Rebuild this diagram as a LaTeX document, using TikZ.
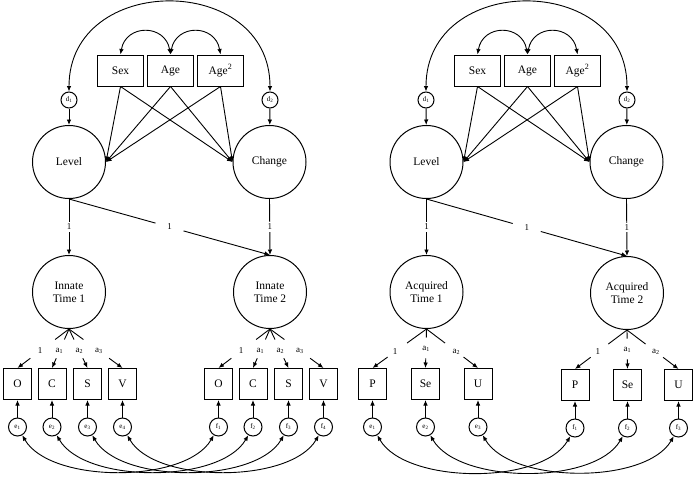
\documentclass[tikz,border=0pt]{standalone}
\usepackage{fontspec}
\setmainfont{Liberation Serif}
\usetikzlibrary{arrows.meta}
\begin{document}
\begin{tikzpicture}[x=1pt,y=1pt,
  every node/.style={font=\fontsize{11.5}{13}\selectfont},
  cov/.style={draw, line width=1pt, minimum width=46pt, minimum height=31pt, inner sep=0pt},
  ind/.style={draw, line width=1pt, minimum width=28pt, minimum height=31pt, inner sep=0pt},
  lat/.style={draw, circle, line width=1pt, minimum size=73pt, inner sep=0pt, align=center},
  err/.style={draw, circle, line width=1pt, minimum size=18pt, inner sep=0pt, font=\fontsize{7}{8}\selectfont},
  dst/.style={draw, circle, line width=1pt, minimum size=16pt, inner sep=0pt, font=\fontsize{7}{8}\selectfont},
  lbl/.style={font=\fontsize{9}{10}\selectfont, inner sep=1pt},
  ln/.style={line width=0.9pt},
  arr/.style={line width=0.9pt, -{Latex[length=5.5pt,width=4.5pt]}},
  darr/.style={line width=0.9pt, {Latex[length=5.5pt,width=4.5pt]}-{Latex[length=5.5pt,width=4.5pt]}},
]
\useasboundingbox (0,0) rectangle (698,-477);

% ================= LEFT PANEL =================
\node[cov] (sexL) at (120.5,-70.5) {Sex};
\node[cov] (ageL) at (170.5,-70.5) {Age};
\node[cov] (agqL) at (220.5,-70.5) {Age\textsuperscript{2}};
\node[lat] (levL) at (69,-162) {Level};
\node[lat] (chgL) at (269.5,-162) {Change};
\node[dst] (d1L) at (69,-100) {d\textsubscript{1}};
\node[dst] (d2L) at (270,-100) {d\textsubscript{2}};
\node[lat] (t1L) at (69,-292) {Innate\\Time 1};
\node[lat] (t2L) at (270,-292) {Innate\\Time 2};

\node[ind] (oA) at (17.5,-384) {O};
\node[ind] (cA) at (52,-384) {C};
\node[ind] (sA) at (87.5,-384) {S};
\node[ind] (vA) at (122.5,-384) {V};
\node[ind] (oB) at (218.5,-384) {O};
\node[ind] (cB) at (253,-384) {C};
\node[ind] (sB) at (288.5,-384) {S};
\node[ind] (vB) at (323.5,-384) {V};

\node[err] (eA1) at (17.5,-427) {e\textsubscript{1}};
\node[err] (eA2) at (52,-427) {e\textsubscript{2}};
\node[err] (eA3) at (87.5,-427) {e\textsubscript{3}};
\node[err] (eA4) at (122.5,-427) {e\textsubscript{4}};
\node[err] (fA1) at (218.5,-427) {f\textsubscript{1}};
\node[err] (fA2) at (253,-427) {f\textsubscript{2}};
\node[err] (fA3) at (288.5,-427) {f\textsubscript{3}};
\node[err] (fA4) at (323.5,-427) {f\textsubscript{4}};

% covariances on top
\draw[darr] (d1L.north) to[out=90,in=90,looseness=1.52] (d2L.north);
\draw[darr] (sexL.north) to[out=80,in=100,looseness=1.6] (ageL.north);
\draw[darr] (ageL.north) to[out=80,in=100,looseness=1.6] (agqL.north);

% covariate paths
\foreach \c in {sexL,ageL,agqL}{
  \draw[arr] (\c.south) -- (levL.east);
  \draw[arr] (\c.south) -- (chgL.west);
}
\draw[arr] (d1L) -- (levL);
\draw[arr] (d2L) -- (chgL);

% level/change to times
\draw[arr] (levL.south) -- node[lbl,fill=white,inner sep=2pt,pos=0.5]{1} (t1L.north);
\draw[arr] (chgL.south) -- node[lbl,fill=white,inner sep=2pt,pos=0.5]{1} (t2L.north);
\path (levL.south) -- (t2L.north) coordinate[pos=0.43] (gA) coordinate[pos=0.57] (gB) node[lbl,pos=0.5]{1};
\draw[ln] (levL.south) -- (gA);
\draw[arr] (gB) -- (t2L.north);

% loadings
\foreach \t/\b/\l in {t1L/oA/1, t1L/cA/a\textsubscript{1}, t1L/sA/a\textsubscript{2}, t1L/vA/a\textsubscript{3},
                      t2L/oB/1, t2L/cB/a\textsubscript{1}, t2L/sB/a\textsubscript{2}, t2L/vB/a\textsubscript{3}}{
  \path (\t.south) -- (\b.north) coordinate[pos=0.27] (p) coordinate[pos=0.75] (q) node[lbl,pos=0.56]{\l};
  \draw[ln] (\t.south) -- (p);
  \draw[arr] (q) -- (\b.north);
}

% errors
\foreach \e/\b in {eA1/oA,eA2/cA,eA3/sA,eA4/vA,fA1/oB,fA2/cB,fA3/sB,fA4/vB}{
  \draw[arr] (\e) -- (\b);
}
\foreach \i in {1,2,3,4}{
  \draw[darr] (eA\i) to[out=-60,in=-120,looseness=0.75] (fA\i);
}

% ================= RIGHT PANEL =================
\node[cov] (sexR) at (477.5,-70.5) {Sex};
\node[cov] (ageR) at (527.5,-70.5) {Age};
\node[cov] (agqR) at (577.5,-70.5) {Age\textsuperscript{2}};
\node[lat] (levR) at (426.5,-162) {Level};
\node[lat] (chgR) at (626.5,-162) {Change};
\node[dst] (d1R) at (426,-100) {d\textsubscript{1}};
\node[dst] (d2R) at (627,-100) {d\textsubscript{2}};
\node[lat] (t1R) at (426.5,-292) {Acquired\\Time 1};
\node[lat] (t2R) at (627,-293) {Acquired\\Time 2};

\node[ind] (pA) at (372.5,-384) {P};
\node[ind] (seA) at (425.5,-384) {Se};
\node[ind] (uA) at (478,-384) {U};
\node[ind] (pB) at (575,-385) {P};
\node[ind] (seB) at (627.5,-385) {Se};
\node[ind] (uB) at (678.5,-385) {U};

\node[err] (eB1) at (372.5,-427) {e\textsubscript{1}};
\node[err] (eB2) at (425.5,-427) {e\textsubscript{2}};
\node[err] (eB3) at (478,-427) {e\textsubscript{3}};
\node[err] (fB1) at (575,-428) {f\textsubscript{1}};
\node[err] (fB2) at (627.5,-428) {f\textsubscript{2}};
\node[err] (fB3) at (678.5,-428) {f\textsubscript{3}};

\draw[darr] (d1R.north) to[out=90,in=90,looseness=1.52] (d2R.north);
\draw[darr] (sexR.north) to[out=80,in=100,looseness=1.6] (ageR.north);
\draw[darr] (ageR.north) to[out=80,in=100,looseness=1.6] (agqR.north);

\foreach \c in {sexR,ageR,agqR}{
  \draw[arr] (\c.south) -- (levR.east);
  \draw[arr] (\c.south) -- (chgR.west);
}
\draw[arr] (d1R) -- (levR);
\draw[arr] (d2R) -- (chgR);

\draw[arr] (levR.south) -- node[lbl,fill=white,inner sep=2pt,pos=0.5]{1} (t1R.north);
\draw[arr] (chgR.south) -- node[lbl,fill=white,inner sep=2pt,pos=0.5]{1} (t2R.north);
\path (levR.south) -- (t2R.north) coordinate[pos=0.43] (gC) coordinate[pos=0.57] (gD) node[lbl,pos=0.5]{1};
\draw[ln] (levR.south) -- (gC);
\draw[arr] (gD) -- (t2R.north);

\foreach \t/\b/\l/\s/\r/\m in {t1R/pA/1/0.36/0.72/0.58, t1R/seA/a\textsubscript{1}/0.22/0.75/0.5, t1R/uA/a\textsubscript{2}/0.36/0.72/0.58,
                               t2R/pB/1/0.36/0.70/0.56, t2R/seB/a\textsubscript{1}/0.22/0.75/0.5, t2R/uB/a\textsubscript{2}/0.36/0.70/0.56}{
  \path (\t.south) -- (\b.north) coordinate[pos=\s] (p) coordinate[pos=\r] (q) node[lbl,pos=\m]{\l};
  \draw[ln] (\t.south) -- (p);
  \draw[arr] (q) -- (\b.north);
}

\foreach \e/\b in {eB1/pA,eB2/seA,eB3/uA,fB1/pB,fB2/seB,fB3/uB}{
  \draw[arr] (\e) -- (\b);
}
\foreach \i in {1,2,3}{
  \draw[darr] (eB\i) to[out=-60,in=-120,looseness=0.75] (fB\i);
}
\end{tikzpicture}
\end{document}
